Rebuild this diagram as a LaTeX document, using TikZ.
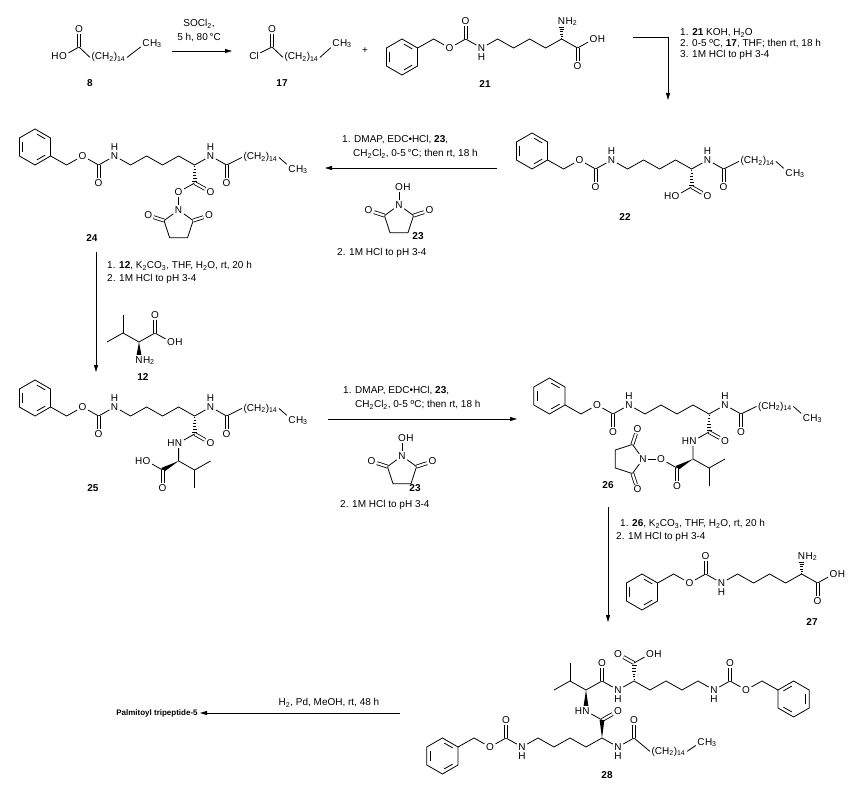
\documentclass[tikz,border=0pt]{standalone}
\usepackage{fontspec}
\setmainfont{Liberation Sans}
\usetikzlibrary{calc,arrows.meta}
\newcommand{\chsub}[1]{\textsubscript{#1}}
\tikzset{
  bond/.style={draw=black, line width=0.8pt},
  dbond/.style={draw=black, line width=0.8pt, double=white, double distance=2.2pt},
  atom/.style={inner sep=1.4pt},
  hright/.style={anchor=base west, inner sep=0pt, xshift=-1.4pt},
  hleft/.style={anchor=base east, inner sep=0pt, xshift=1.4pt},
  hup/.style={anchor=south, inner sep=0pt},
  hdown/.style={anchor=north, inner sep=0pt},
  cpd/.style={font=\bfseries},
  cond/.style={anchor=west, inner sep=0pt},
  rxn/.style={line width=0.8pt, -{Triangle[length=7pt,width=4pt]}}
}
% benzene ring: centre, start angles of the inner lines
\newcommand{\benzring}[2]{%
  \draw[bond] (#1) ++(30:18) -- ++(150:18) -- ++(210:18) -- ++(270:18) -- ++(330:18) -- ++(30:18) -- cycle;
  \foreach \a in {#2}{\draw[bond, shorten <=2.2pt, shorten >=2.2pt] (#1) ++(\a:14) -- ++(\a+120:14);}
}
% hashed and bold wedge bonds
\newcommand{\hashb}[2]{%
  \foreach \hp/\hw in {0.08/0.5pt,0.24/0.9pt,0.4/1.3pt,0.56/1.7pt,0.72/2.1pt,0.88/2.5pt}{%
    \draw[line width=0.6pt] ($(#1)!\hp!(#2)!\hw!90:(#2)$) -- ($(#1)!\hp!(#2)!\hw!-90:(#2)$);}%
}
\newcommand{\wedgeb}[2]{\fill (#1) -- ($(#2)!2.4pt!90:(#1)$) -- ($(#2)!2.4pt!-90:(#1)$) -- cycle;}
% succinimide: prefix, N coordinate, direction centre->N
\newcommand{\succin}[3]{%
  \node[atom] (#1n) at (#2) {N};
  \path (#2) ++(#3+180:15.3) coordinate (#1m);
  \path (#1m) ++(#3+72:15.3) coordinate (#1a);
  \path (#1m) ++(#3-72:15.3) coordinate (#1b);
  \path (#1m) ++(#3+144:15.3) coordinate (#1c);
  \path (#1m) ++(#3-144:15.3) coordinate (#1d);
  \path (#1m) ++(#3+72:32) node[atom] (#1e) {O};
  \path (#1m) ++(#3-72:32) node[atom] (#1f) {O};
  \draw[bond] (#1n) -- (#1a) -- (#1c) -- (#1d) -- (#1b) -- (#1n);
  \draw[dbond] (#1a) -- (#1e);
  \draw[dbond] (#1b) -- (#1f);
}
% Cbz-lysine, ring centre (#1r)
\newcommand{\cbzlys}[1]{%
  \benzring{#1r}{270,30,150}
  \coordinate (#1v) at ([shift={(15.6,-9)}]#1r);
  \coordinate (#1k) at ([shift={(31.6,-18)}]#1r);
  \node[atom] (#1o) at ([shift={(47.6,-9)}]#1r) {O};
  \coordinate (#1c) at ([shift={(63.6,-18)}]#1r);
  \node[atom] (#1co) at ([shift={(63.6,-36)}]#1r) {O};
  \node[atom] (#1n) at ([shift={(79.6,-9)}]#1r) {N};
  \node[hdown] (#1nh) at (#1n.south) {H};
  \coordinate (#1c1) at ([shift={(95.6,-18)}]#1r);
  \coordinate (#1c2) at ([shift={(111.6,-9)}]#1r);
  \coordinate (#1c3) at ([shift={(127.6,-18)}]#1r);
  \coordinate (#1c4) at ([shift={(143.6,-9)}]#1r);
  \coordinate (#1ca) at ([shift={(159.6,-18)}]#1r);
  \node[atom] (#1a) at ([shift={(159.6,-36)}]#1r) {N};
  \node[hright] (#1ah) at (#1a.base east) {H\chsub{2}};
  \coordinate (#1d) at ([shift={(175.6,-9)}]#1r);
  \node[atom] (#1do) at ([shift={(175.6,9)}]#1r) {O};
  \node[atom] (#1e) at ([shift={(191.6,-18)}]#1r) {O};
  \node[hright] (#1eh) at (#1e.base east) {H};
  \draw[bond] (#1v) -- (#1k) -- (#1o);
  \draw[bond] (#1o) -- (#1c) -- (#1n);
  \draw[dbond] (#1c) -- (#1co);
  \draw[bond] (#1n) -- (#1c1) -- (#1c2) -- (#1c3) -- (#1c4) -- (#1ca) -- (#1d) -- (#1e);
  \draw[dbond] (#1d) -- (#1do);
  \hashb{#1ca}{#1a.south}
}
% Cbz-Lys(palmitoyl) backbone, ring centre (#1r), alpha carbon (#1ca)
\newcommand{\palmlys}[1]{%
  \benzring{#1r}{270,30,150}
  \coordinate (#1v) at ([shift={(15.6,9)}]#1r);
  \coordinate (#1k) at ([shift={(31.6,18)}]#1r);
  \node[atom] (#1o) at ([shift={(47.6,9)}]#1r) {O};
  \coordinate (#1c) at ([shift={(63.6,18)}]#1r);
  \node[atom] (#1co) at ([shift={(63.6,36)}]#1r) {O};
  \node[atom] (#1n) at ([shift={(79.6,9)}]#1r) {N};
  \node[hup] (#1nh) at (#1n.north) {H};
  \coordinate (#1c1) at ([shift={(95.6,18)}]#1r);
  \coordinate (#1c2) at ([shift={(111.6,9)}]#1r);
  \coordinate (#1c3) at ([shift={(127.6,18)}]#1r);
  \coordinate (#1c4) at ([shift={(143.6,9)}]#1r);
  \coordinate (#1ca) at ([shift={(159.6,18)}]#1r);
  \node[atom] (#1m) at ([shift={(175.6,9)}]#1r) {N};
  \node[hup] (#1mh) at (#1m.north) {H};
  \coordinate (#1d) at ([shift={(191.6,18)}]#1r);
  \node[atom] (#1do) at ([shift={(191.6,36)}]#1r) {O};
  \node[atom, anchor=base west] (#1p) at ([shift={(207,13)}]#1r) {(CH\chsub{2})\chsub{14}};
  \node[atom] (#1t) at ([shift={(257,22)}]#1r) {C};
  \node[hright] (#1th) at (#1t.base east) {H\chsub{3}};
  \draw[bond] (#1v) -- (#1k) -- (#1o);
  \draw[bond] (#1o) -- (#1c) -- (#1n);
  \draw[dbond] (#1c) -- (#1co);
  \draw[bond] (#1n) -- (#1c1) -- (#1c2) -- (#1c3) -- (#1c4) -- (#1ca) -- (#1m);
  \draw[bond] (#1m) -- (#1d) -- (#1p.west);
  \draw[dbond] (#1d) -- (#1do);
  \draw[bond] (#1p.east) -- (#1t);
}

\begin{document}
\begin{tikzpicture}[x=1pt,y=-1pt]
\useasboundingbox (0,0) rectangle (852,789);

% palmitic acid 8 -> acid chloride 17
\coordinate (c8) at (79,47);
\node[atom] (o8) at (63,56) {O};
\node[hleft] (o8h) at (o8.base west) {H};
\node[atom] (o8b) at (79,29) {O};
\node[atom, anchor=base west] (p8) at (90,60) {(CH\chsub{2})\chsub{14}};
\node[atom] (m8) at (146,43) {C};
\node[hright] (m8h) at (m8.base east) {H\chsub{3}};
\draw[bond] (o8) -- (c8) -- (p8.west);
\draw[dbond] (c8) -- (o8b);
\draw[bond] (p8.east) -- (m8);
\node[cpd] (l8) at (90,83) {8};

\coordinate (s1a) at (172,51);
\coordinate (s1b) at (232,51);
\draw[rxn] (s1a) -- (s1b);
\node[cond, anchor=center] (t1a) at (199,24) {SOCl\chsub{2},};
\node[cond, anchor=center] (t1b) at (199,38) {5 h, 80\,°C};

\coordinate (c17) at (272,47);
\node[atom] (cl17) at (254,56) {Cl};
\node[atom] (o17) at (272,29) {O};
\node[atom, anchor=base west] (p17) at (283,60) {(CH\chsub{2})\chsub{14}};
\node[atom] (m17) at (336,43) {C};
\node[hright] (m17h) at (m17.base east) {H\chsub{3}};
\draw[bond] (cl17) -- (c17) -- (p17.west);
\draw[dbond] (c17) -- (o17);
\draw[bond] (p17.east) -- (m17);
\node[cpd] (l17) at (282,83) {17};
\node (plus) at (365,51) {+};

% Cbz-lysine 21
\coordinate (q21r) at (402,57);
\cbzlys{q21}
\node[cpd] (l21) at (485,84) {21};

\coordinate (s2a) at (633,37);
\coordinate (s2b) at (668,100);
\draw[rxn] (s2a) -| (s2b);
\node[cond] (t2a) at (680,33) {1. \textbf{21} KOH, H\chsub{2}O};
\node[cond] (t2b) at (680,44) {2. 0-5 ºC, \textbf{17}, THF; then rt, 18 h};
\node[cond] (t2c) at (680,55) {3. 1M HCl to pH 3-4};

% 22
\coordinate (g22r) at (532,151);
\palmlys{g22}
\coordinate (g22x) at (691.6,187);
\node[atom] (g22y) at (675.6,196) {O};
\node[hleft] (g22yh) at (g22y.base west) {H};
\node[atom] (g22z) at (707.6,196) {O};
\hashb{g22ca}{g22x}
\draw[bond] (g22x) -- (g22y);
\draw[dbond] (g22x) -- (g22z);
\node[cpd] (l22) at (625,217) {22};

% 22 -> 24 with NHS 23
\coordinate (s3a) at (497,168);
\coordinate (s3b) at (325,168);
\draw[rxn] (s3a) -- (s3b);
\node[cond] (t3a) at (342,140) {1. DMAP, EDC•HCl, \textbf{23},};
\node[cond] (t3b) at (353,154) {CH\chsub{2}Cl\chsub{2}, 0-5\,°C; then rt, 18 h};
\coordinate (h23p) at (399,205);
\succin{h23}{h23p}{270}
\node[atom] (h23o) at (399,187) {O};
\node[hright] (h23oh) at (h23o.base east) {H};
\draw[bond] (h23n) -- (h23o);
\node[cpd] (l23a) at (418,236) {23};
\node[cond] (t3c) at (337,253) {2. 1M HCl to pH 3-4};

% 24
\coordinate (e24r) at (35,147);
\palmlys{e24}
\coordinate (e24x) at (194.6,183);
\node[atom] (e24y) at (178.6,192) {O};
\node[atom] (e24z) at (210.6,192) {O};
\hashb{e24ca}{e24x}
\draw[bond] (e24x) -- (e24y);
\draw[dbond] (e24x) -- (e24z);
\coordinate (e24p) at (178.6,210);
\succin{e24s}{e24p}{270}
\draw[bond] (e24y) -- (e24sn);
\node[cpd] (l24) at (92,238) {24};

% 24 -> 25 with valine 12
\coordinate (s4a) at (96,252);
\coordinate (s4b) at (96,372);
\draw[rxn] (s4a) -- (s4b);
\node[cond] (t4a) at (107,266) {1. \textbf{12}, K\chsub{2}CO\chsub{3}, THF, H\chsub{2}O, rt, 20 h};
\node[cond] (t4b) at (107,279) {2. 1M HCl to pH 3-4};
\coordinate (v12a) at (139,342);
\coordinate (v12b) at (123,333);
\coordinate (v12c) at (107,342);
\coordinate (v12d) at (123,315);
\coordinate (v12e) at (155,333);
\node[atom] (v12o) at (155,315) {O};
\node[atom] (v12p) at (171,342) {O};
\node[hright] (v12ph) at (v12p.base east) {H};
\node[atom] (v12n) at (139,360) {N};
\node[hright] (v12nh) at (v12n.base east) {H\chsub{2}};
\draw[bond] (v12c) -- (v12b) -- (v12a) -- (v12e) -- (v12p);
\draw[bond] (v12b) -- (v12d);
\draw[dbond] (v12e) -- (v12o);
\wedgeb{v12a}{v12n.north}
\node[cpd] (l12) at (143,377) {12};

% 25
\coordinate (f25r) at (35,398);
\palmlys{f25}
\coordinate (f25x) at (194.6,434);
\node[atom] (f25z) at (210.6,443) {O};
\node[atom] (f25n) at (178.6,443) {N};
\node[hleft] (f25nh) at (f25n.base west) {H};
\coordinate (f25a) at (178.6,461);
\coordinate (f25b) at (162.6,470);
\node[atom] (f25o) at (146.6,461) {O};
\node[hleft] (f25oh) at (f25o.base west) {H};
\node[atom] (f25q) at (162.6,488) {O};
\coordinate (f25c) at (194.6,470);
\coordinate (f25d) at (210.6,461);
\coordinate (f25e) at (194.6,488);
\hashb{f25ca}{f25x}
\draw[dbond] (f25x) -- (f25z);
\draw[bond] (f25x) -- (f25n);
\draw[bond] (f25n) -- (f25a) -- (f25c) -- (f25d);
\draw[bond] (f25c) -- (f25e);
\wedgeb{f25a}{f25b}
\draw[bond] (f25b) -- (f25o);
\draw[dbond] (f25b) -- (f25q);
\node[cpd] (l25) at (93,488) {25};

% 25 -> 26 with NHS 23
\coordinate (s5a) at (328,419);
\coordinate (s5b) at (517,419);
\draw[rxn] (s5a) -- (s5b);
\node[cond] (t5a) at (343,391) {1. DMAP, EDC•HCl, \textbf{23},};
\node[cond] (t5b) at (355,405) {CH\chsub{2}Cl\chsub{2}, 0-5 ºC; then rt, 18 h};
\coordinate (k23p) at (402,456);
\succin{k23}{k23p}{270}
\node[atom] (k23o) at (402,438) {O};
\node[hright] (k23oh) at (k23o.base east) {H};
\draw[bond] (k23n) -- (k23o);
\node[cpd] (l23b) at (415,488) {23};
\node[cond] (t5c) at (340,505) {2. 1M HCl to pH 3-4};

% 26
\coordinate (u26r) at (549.4,396);
\palmlys{u26}
\coordinate (u26x) at (709,432);
\node[atom] (u26z) at (725,441) {O};
\node[atom] (u26n) at (693,441) {N};
\node[hleft] (u26nh) at (u26n.base west) {H};
\coordinate (u26a) at (693,459);
\coordinate (u26b) at (677,468);
\node[atom] (u26q) at (677,486) {O};
\node[atom] (u26o) at (661,459) {O};
\coordinate (u26c) at (709,468);
\coordinate (u26d) at (725,459);
\coordinate (u26e) at (709,486);
\coordinate (u26p) at (643,459);
\succin{u26s}{u26p}{0}
\hashb{u26ca}{u26x}
\draw[dbond] (u26x) -- (u26z);
\draw[bond] (u26x) -- (u26n);
\draw[bond] (u26n) -- (u26a) -- (u26c) -- (u26d);
\draw[bond] (u26c) -- (u26e);
\wedgeb{u26a}{u26b}
\draw[dbond] (u26b) -- (u26q);
\draw[bond] (u26b) -- (u26o);
\draw[bond] (u26o) -- (u26sn);
\node[cpd] (l26) at (608,485) {26};

% 26 -> 28 with Cbz-lysine 27
\coordinate (s6a) at (608,507);
\coordinate (s6b) at (608,622);
\draw[rxn] (s6a) -- (s6b);
\node[cond] (t6a) at (620,524) {1. \textbf{26}, K\chsub{2}CO\chsub{3}, THF, H\chsub{2}O, rt, 20 h};
\node[cond] (t6b) at (616,537) {2. 1M HCl to pH 3-4};
\coordinate (w27r) at (642,592);
\cbzlys{w27}
\node[cpd] (l27) at (812,622) {27};

% 28, upper chain
\coordinate (z28a) at (586,690);
\coordinate (z28b) at (570,681);
\coordinate (z28c) at (554,690);
\coordinate (z28d) at (570,663);
\coordinate (z28e) at (602,681);
\node[atom] (z28eo) at (602,663) {O};
\node[atom] (z28f) at (618,690) {N};
\node[hdown] (z28fh) at (z28f.south) {H};
\coordinate (z28g) at (634,681);
\coordinate (z28h) at (634,663);
\node[atom] (z28ho) at (618,654) {O};
\node[atom] (z28hp) at (650,654) {O};
\node[hright] (z28hph) at (z28hp.base east) {H};
\coordinate (z28i1) at (650,690);
\coordinate (z28i2) at (666,681);
\coordinate (z28i3) at (682,690);
\coordinate (z28i4) at (698,681);
\node[atom] (z28j) at (714,690) {N};
\node[hdown] (z28jh) at (z28j.south) {H};
\coordinate (z28k) at (730,681);
\node[atom] (z28ko) at (730,663) {O};
\node[atom] (z28l) at (746,690) {O};
\coordinate (z28m) at (762,681);
\coordinate (z28v) at (778,690);
\coordinate (z28r) at (793.6,699);
\benzring{z28r}{330,90,210}
\draw[bond] (z28c) -- (z28b) -- (z28a) -- (z28e) -- (z28f);
\draw[bond] (z28b) -- (z28d);
\draw[dbond] (z28e) -- (z28eo);
\draw[bond] (z28f) -- (z28g) -- (z28i1) -- (z28i2) -- (z28i3) -- (z28i4) -- (z28j);
\draw[bond] (z28j) -- (z28k) -- (z28l);
\draw[dbond] (z28k) -- (z28ko);
\draw[bond] (z28l) -- (z28m) -- (z28v);
\hashb{z28g}{z28h}
\draw[dbond] (z28h) -- (z28ho);
\draw[bond] (z28h) -- (z28hp);

% 28, lower chain
\node[atom] (z28n) at (586,711) {N};
\node[hleft] (z28nh) at (z28n.base west) {H};
\coordinate (z28o) at (602,720);
\node[atom] (z28oo) at (618,711) {O};
\coordinate (z28p) at (602,738);
\node[atom] (z28q) at (618,747) {N};
\node[hdown] (z28qh) at (z28q.south) {H};
\coordinate (z28s) at (634,738);
\node[atom] (z28so) at (634,720) {O};
\node[atom, anchor=base west] (z28t) at (650,754) {(CH\chsub{2})\chsub{14}};
\node[atom] (z28u) at (701,742) {C};
\node[hright] (z28uh) at (z28u.base east) {H\chsub{3}};
\coordinate (z28w1) at (586,747);
\coordinate (z28w2) at (570,738);
\coordinate (z28w3) at (554,747);
\coordinate (z28w4) at (538,738);
\node[atom] (z28x) at (522,747) {N};
\node[hdown] (z28xh) at (z28x.south) {H};
\coordinate (z28y) at (506,738);
\node[atom] (z28yo) at (506,720) {O};
\node[atom] (z28yy) at (490,747) {O};
\coordinate (z28zz) at (474,738);
\coordinate (z28vv) at (458,747);
\coordinate (z28rr) at (442.4,756);
\benzring{z28rr}{270,30,150}
\wedgeb{z28a}{z28n.north}
\draw[bond] (z28n) -- (z28o);
\draw[dbond] (z28o) -- (z28oo);
\wedgeb{z28p}{z28o}
\draw[bond] (z28p) -- (z28q);
\draw[bond] (z28q) -- (z28s) -- (z28t.west);
\draw[dbond] (z28s) -- (z28so);
\draw[bond] (z28t.east) -- (z28u);
\draw[bond] (z28p) -- (z28w1) -- (z28w2) -- (z28w3) -- (z28w4) -- (z28x);
\draw[bond] (z28x) -- (z28y) -- (z28yy);
\draw[dbond] (z28y) -- (z28yo);
\draw[bond] (z28yy) -- (z28zz) -- (z28vv);
\node[cpd] (l28) at (607,775) {28};

% deprotection
\coordinate (s7a) at (400,713);
\coordinate (s7b) at (200,713);
\draw[rxn] (s7a) -- (s7b);
\node[cond, anchor=center] (t7) at (329,703) {H\chsub{2}, Pd, MeOH, rt, 48 h};
\node[font=\bfseries\fontsize{8}{10}\selectfont] (prod) at (157,713) {Palmitoyl tripeptide-5};
\end{tikzpicture}
\end{document}
